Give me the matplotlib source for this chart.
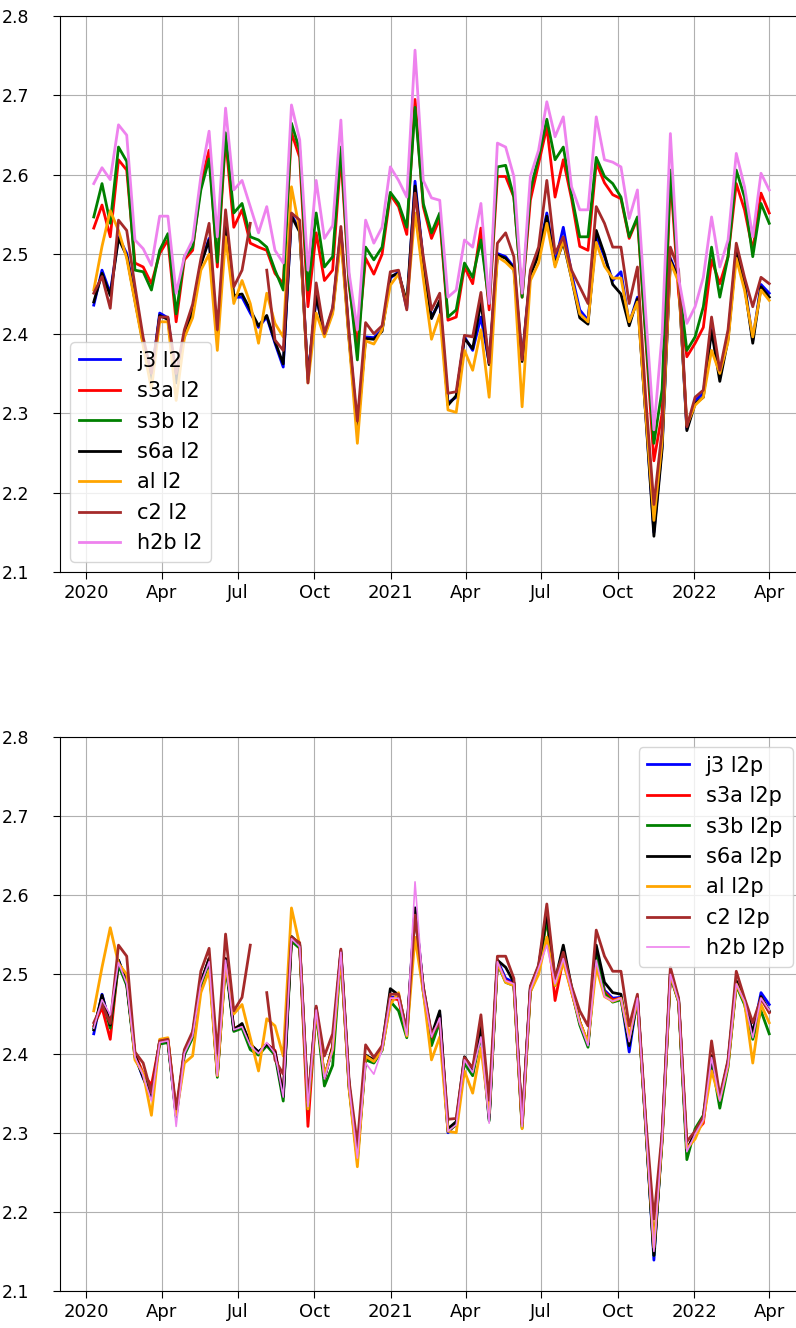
import datetime as dt
import numpy as np
import matplotlib
matplotlib.use('Agg')
import matplotlib.pyplot as plt
import matplotlib.dates as mdates

nan = np.nan

# 83 samples, about every 10 days
start = dt.datetime(2020, 1, 10)
end = dt.datetime(2022, 4, 1)
n_pts = 83
dates = [start + (end - start) * i / (n_pts - 1) for i in range(n_pts)]

# ---- top panel (l2) ----
j3_l2 = [2.436, 2.480, 2.451, 2.522, 2.501, 2.445, 2.390, 2.345, 2.426, 2.420,
         2.340, 2.400, 2.430, 2.489, 2.520, 2.395, 2.540, 2.446, 2.446, 2.426,
         2.408, 2.421, 2.388, 2.358, 2.550, 2.530, 2.345, 2.446, 2.400, 2.430,
         2.530, 2.395, 2.280, 2.396, 2.395, 2.405, 2.470, 2.478, 2.432, 2.592,
         2.492, 2.421, 2.440, 2.313, 2.320, 2.396, 2.379, 2.421, 2.363, 2.501,
         2.497, 2.484, 2.367, 2.476, 2.501, 2.552, 2.489, 2.534, 2.476, 2.430,
         2.417, 2.522, 2.497, 2.467, 2.478, 2.413, 2.446, 2.300, 2.150, 2.260,
         2.495, 2.470, 2.280, 2.316, 2.325, 2.408, 2.345, 2.396, 2.505, 2.463,
         2.392, 2.462, 2.451]
s3a_l2 = [2.533, 2.562, 2.522, 2.619, 2.606, 2.489, 2.484, 2.463, 2.501, 2.518,
          2.415, 2.493, 2.505, 2.589, 2.631, 2.484, 2.646, 2.534, 2.556, 2.514,
          2.509, 2.505, 2.476, 2.463, 2.653, 2.622, 2.434, 2.527, 2.467, 2.480,
          2.625, 2.460, 2.385, 2.495, 2.475, 2.500, 2.575, 2.560, 2.525, 2.695,
          2.560, 2.520, 2.545, 2.417, 2.421, 2.484, 2.463, 2.533, 2.430, 2.598,
          2.598, 2.572, 2.446, 2.568, 2.614, 2.660, 2.572, 2.619, 2.570, 2.510,
          2.505, 2.615, 2.590, 2.575, 2.570, 2.520, 2.545, 2.395, 2.240, 2.300,
          2.600, 2.450, 2.371, 2.388, 2.408, 2.493, 2.463, 2.497, 2.589, 2.556,
          2.505, 2.577, 2.552]
s3b_l2 = [2.547, 2.589, 2.539, 2.635, 2.617, 2.480, 2.478, 2.455, 2.505, 2.526,
          2.425, 2.497, 2.509, 2.581, 2.620, 2.490, 2.653, 2.552, 2.564, 2.522,
          2.518, 2.509, 2.480, 2.455, 2.665, 2.631, 2.455, 2.552, 2.484, 2.497,
          2.635, 2.467, 2.367, 2.509, 2.493, 2.509, 2.578, 2.564, 2.534, 2.685,
          2.564, 2.527, 2.552, 2.421, 2.430, 2.489, 2.471, 2.518, 2.438, 2.610,
          2.612, 2.572, 2.446, 2.581, 2.622, 2.670, 2.619, 2.635, 2.575, 2.522,
          2.522, 2.622, 2.598, 2.589, 2.572, 2.522, 2.547, 2.400, 2.262, 2.330,
          2.606, 2.467, 2.379, 2.396, 2.434, 2.509, 2.446, 2.497, 2.606, 2.572,
          2.497, 2.564, 2.539]
s6a_l2 = [2.440, 2.476, 2.448, 2.520, 2.498, 2.442, 2.388, 2.343, 2.423, 2.418,
          2.338, 2.398, 2.428, 2.487, 2.518, 2.393, 2.538, 2.448, 2.450, 2.430,
          2.410, 2.423, 2.390, 2.362, 2.548, 2.528, 2.343, 2.448, 2.398, 2.428,
          2.528, 2.393, 2.278, 2.394, 2.393, 2.403, 2.472, 2.476, 2.440, 2.586,
          2.490, 2.419, 2.442, 2.310, 2.322, 2.394, 2.381, 2.440, 2.361, 2.499,
          2.495, 2.482, 2.365, 2.474, 2.499, 2.548, 2.487, 2.515, 2.470, 2.420,
          2.412, 2.530, 2.500, 2.462, 2.450, 2.410, 2.444, 2.298, 2.145, 2.255,
          2.493, 2.468, 2.278, 2.312, 2.320, 2.404, 2.340, 2.393, 2.503, 2.461,
          2.388, 2.459, 2.446]
al_l2 = [2.455, 2.510, 2.555, 2.530, 2.495, 2.440, 2.385, 2.330, 2.415, 2.415,
         2.316, 2.395, 2.420, 2.480, 2.500, 2.379, 2.522, 2.438, 2.467, 2.438,
         2.388, 2.451, 2.413, 2.396, 2.585, 2.530, 2.338, 2.426, 2.396, 2.425,
         2.520, 2.390, 2.262, 2.391, 2.387, 2.405, 2.461, 2.475, 2.435, 2.552,
         2.470, 2.393, 2.424, 2.304, 2.301, 2.379, 2.354, 2.405, 2.320, 2.497,
         2.490, 2.480, 2.308, 2.467, 2.489, 2.539, 2.484, 2.518, 2.470, 2.425,
         2.415, 2.515, 2.485, 2.470, 2.470, 2.415, 2.440, 2.300, 2.165, 2.265,
         2.490, 2.465, 2.285, 2.310, 2.320, 2.379, 2.350, 2.390, 2.495, 2.455,
         2.396, 2.455, 2.442]
c2_l2 = [2.451, 2.472, 2.432, 2.543, 2.530, 2.460, 2.395, 2.350, 2.421, 2.421,
         2.350, 2.405, 2.437, 2.494, 2.539, 2.405, 2.556, 2.459, 2.480, 2.539,
         nan, 2.480, 2.392, 2.379, 2.552, 2.543, 2.338, 2.464, 2.400, 2.433,
         2.535, 2.400, 2.290, 2.414, 2.400, 2.410, 2.478, 2.480, 2.430, 2.577,
         2.497, 2.430, 2.451, 2.325, 2.327, 2.398, 2.396, 2.452, 2.363, 2.514,
         2.527, 2.497, 2.367, 2.480, 2.509, 2.593, 2.501, 2.522, 2.480, 2.459,
         2.438, 2.560, 2.539, 2.509, 2.509, 2.438, 2.484, 2.320, 2.185, 2.279,
         2.509, 2.480, 2.283, 2.320, 2.329, 2.421, 2.354, 2.405, 2.514, 2.471,
         2.434, 2.471, 2.463]
h2b_l2 = [2.589, 2.609, 2.594, 2.663, 2.650, 2.518, 2.507, 2.486, 2.548, 2.548,
          2.451, 2.497, 2.518, 2.598, 2.655, 2.522, 2.684, 2.581, 2.593, 2.560,
          2.527, 2.560, 2.505, 2.489, 2.688, 2.644, 2.480, 2.593, 2.520, 2.536,
          2.669, 2.476, 2.405, 2.543, 2.514, 2.534, 2.610, 2.593, 2.572, 2.757,
          2.593, 2.571, 2.568, 2.446, 2.455, 2.518, 2.509, 2.564, 2.438, 2.640,
          2.635, 2.598, 2.451, 2.598, 2.631, 2.692, 2.648, 2.673, 2.585, 2.556,
          2.556, 2.673, 2.619, 2.616, 2.610, 2.545, 2.581, 2.426, 2.279, 2.400,
          2.652, 2.470, 2.413, 2.434, 2.471, 2.547, 2.484, 2.518, 2.627, 2.585,
          2.522, 2.602, 2.581]

# ---- bottom panel (l2p) ----
j3_l2p = [2.425, 2.475, 2.435, 2.518, 2.490, 2.397, 2.369, 2.345, 2.416, 2.416,
          2.322, 2.402, 2.425, 2.490, 2.518, 2.374, 2.518, 2.430, 2.435, 2.410,
          2.402, 2.411, 2.402, 2.345, 2.547, 2.537, 2.335, 2.457, 2.369, 2.407,
          2.528, 2.360, 2.270, 2.397, 2.392, 2.407, 2.471, 2.471, 2.425, 2.584,
          2.482, 2.421, 2.450, 2.300, 2.312, 2.392, 2.378, 2.430, 2.317, 2.518,
          2.495, 2.490, 2.308, 2.482, 2.509, 2.575, 2.490, 2.525, 2.482, 2.439,
          2.411, 2.530, 2.480, 2.470, 2.471, 2.402, 2.471, 2.310, 2.139, 2.295,
          2.500, 2.467, 2.276, 2.298, 2.317, 2.397, 2.341, 2.388, 2.490, 2.467,
          2.425, 2.477, 2.462]
s3a_l2p = [2.435, 2.458, 2.418, 2.515, 2.488, 2.400, 2.375, 2.360, 2.414, 2.418,
           2.325, 2.400, 2.423, 2.488, 2.520, 2.372, 2.520, 2.432, 2.436, 2.412,
           2.400, 2.412, 2.404, 2.348, 2.545, 2.535, 2.308, 2.455, 2.368, 2.410,
           2.526, 2.358, 2.268, 2.395, 2.390, 2.405, 2.470, 2.468, 2.423, 2.580,
           2.480, 2.418, 2.448, 2.302, 2.310, 2.390, 2.375, 2.428, 2.318, 2.515,
           2.492, 2.488, 2.310, 2.480, 2.506, 2.572, 2.467, 2.520, 2.478, 2.440,
           2.412, 2.528, 2.478, 2.468, 2.470, 2.420, 2.470, 2.312, 2.150, 2.292,
           2.498, 2.466, 2.278, 2.300, 2.312, 2.398, 2.340, 2.386, 2.488, 2.465,
           2.423, 2.470, 2.452]
s3b_l2p = [2.432, 2.470, 2.432, 2.512, 2.486, 2.395, 2.372, 2.348, 2.412, 2.414,
           2.320, 2.398, 2.420, 2.485, 2.515, 2.370, 2.515, 2.428, 2.432, 2.405,
           2.398, 2.410, 2.398, 2.340, 2.542, 2.533, 2.330, 2.452, 2.359, 2.385,
           2.524, 2.356, 2.265, 2.392, 2.388, 2.404, 2.466, 2.454, 2.420, 2.578,
           2.478, 2.410, 2.440, 2.302, 2.310, 2.388, 2.372, 2.425, 2.315, 2.514,
           2.490, 2.486, 2.306, 2.478, 2.505, 2.570, 2.486, 2.518, 2.480, 2.436,
           2.408, 2.526, 2.476, 2.465, 2.468, 2.412, 2.466, 2.308, 2.145, 2.290,
           2.498, 2.465, 2.266, 2.305, 2.322, 2.392, 2.331, 2.383, 2.486, 2.462,
           2.418, 2.454, 2.425]
s6a_l2p = [2.430, 2.474, 2.436, 2.518, 2.490, 2.398, 2.370, 2.345, 2.416, 2.416,
           2.322, 2.402, 2.425, 2.490, 2.520, 2.374, 2.520, 2.430, 2.438, 2.412,
           2.402, 2.412, 2.402, 2.346, 2.548, 2.538, 2.334, 2.458, 2.370, 2.408,
           2.530, 2.360, 2.270, 2.398, 2.392, 2.408, 2.482, 2.474, 2.428, 2.584,
           2.484, 2.423, 2.454, 2.305, 2.314, 2.396, 2.380, 2.436, 2.320, 2.518,
           2.509, 2.490, 2.310, 2.484, 2.510, 2.578, 2.492, 2.537, 2.484, 2.440,
           2.412, 2.537, 2.490, 2.477, 2.475, 2.410, 2.472, 2.310, 2.145, 2.296,
           2.502, 2.468, 2.278, 2.300, 2.318, 2.397, 2.342, 2.390, 2.492, 2.468,
           2.426, 2.472, 2.454]
al_l2p = [2.454, 2.509, 2.559, 2.514, 2.500, 2.392, 2.375, 2.322, 2.418, 2.420,
          2.322, 2.388, 2.397, 2.477, 2.505, 2.372, 2.512, 2.450, 2.462, 2.420,
          2.378, 2.444, 2.435, 2.397, 2.584, 2.537, 2.330, 2.455, 2.372, 2.405,
          2.524, 2.355, 2.257, 2.397, 2.390, 2.405, 2.462, 2.477, 2.422, 2.547,
          2.478, 2.392, 2.421, 2.302, 2.300, 2.378, 2.350, 2.407, 2.325, 2.515,
          2.490, 2.486, 2.305, 2.478, 2.500, 2.547, 2.486, 2.515, 2.478, 2.440,
          2.414, 2.509, 2.472, 2.466, 2.470, 2.420, 2.468, 2.312, 2.155, 2.293,
          2.500, 2.466, 2.280, 2.292, 2.316, 2.378, 2.342, 2.385, 2.488, 2.465,
          2.388, 2.462, 2.439]
c2_l2p = [2.439, 2.462, 2.438, 2.537, 2.523, 2.402, 2.388, 2.350, 2.416, 2.418,
          2.330, 2.405, 2.428, 2.504, 2.533, 2.400, 2.551, 2.454, 2.471, 2.537,
          nan, 2.477, 2.392, 2.374, 2.547, 2.540, 2.340, 2.460, 2.397, 2.425,
          2.532, 2.365, 2.285, 2.411, 2.395, 2.410, 2.475, 2.475, 2.428, 2.575,
          2.485, 2.425, 2.439, 2.317, 2.318, 2.395, 2.382, 2.449, 2.341, 2.523,
          2.523, 2.495, 2.312, 2.485, 2.512, 2.589, 2.495, 2.528, 2.485, 2.454,
          2.435, 2.556, 2.523, 2.504, 2.504, 2.435, 2.475, 2.318, 2.191, 2.300,
          2.509, 2.470, 2.289, 2.302, 2.320, 2.416, 2.346, 2.392, 2.504, 2.470,
          2.439, 2.470, 2.452]
h2b_l2p = [2.432, 2.468, 2.449, 2.515, 2.488, 2.396, 2.372, 2.340, 2.414, 2.416,
           2.308, 2.400, 2.422, 2.488, 2.516, 2.372, 2.518, 2.430, 2.434, 2.410,
           2.400, 2.414, 2.400, 2.345, 2.545, 2.535, 2.333, 2.455, 2.368, 2.405,
           2.528, 2.358, 2.268, 2.388, 2.374, 2.405, 2.470, 2.470, 2.423, 2.617,
           2.480, 2.421, 2.445, 2.302, 2.310, 2.392, 2.376, 2.421, 2.312, 2.516,
           2.492, 2.488, 2.308, 2.480, 2.508, 2.537, 2.488, 2.520, 2.480, 2.438,
           2.410, 2.518, 2.472, 2.466, 2.470, 2.415, 2.470, 2.310, 2.150, 2.292,
           2.500, 2.466, 2.276, 2.298, 2.316, 2.395, 2.340, 2.386, 2.488, 2.466,
           2.420, 2.470, 2.455]

names = ['j3', 's3a', 's3b', 's6a', 'al', 'c2', 'h2b']
colors = ['blue', 'red', 'green', 'black', 'orange', 'brown', 'violet']
top_series = [j3_l2, s3a_l2, s3b_l2, s6a_l2, al_l2, c2_l2, h2b_l2]
bottom_series = [j3_l2p, s3a_l2p, s3b_l2p, s6a_l2p, al_l2p, c2_l2p, h2b_l2p]


def draw_panel(ax, series, suffix, legend_loc, pink_lw):
    for name, color, vals in zip(names, colors, series):
        lw = pink_lw if name == 'h2b' else 2.0
        ax.plot(dates, vals, color=color, lw=lw, label=name + ' ' + suffix)
    ax.set_ylim(2.1, 2.8)
    loc = mdates.MonthLocator(bymonth=[1, 4, 7, 10])
    ax.xaxis.set_major_locator(loc)
    ax.xaxis.set_major_formatter(mdates.ConciseDateFormatter(loc))
    ax.tick_params(axis='x', labelsize=13, length=5)
    ax.tick_params(axis='y', labelsize=12.5, length=5, pad=17)
    ax.grid(True)
    ax.legend(loc=legend_loc, fontsize=15)


fig = plt.figure(figsize=(7.96, 13.28), dpi=100)
ax1 = fig.add_axes([60 / 796, 756 / 1328, 743 / 796, 556 / 1328])
ax2 = fig.add_axes([60 / 796, 37 / 1328, 743 / 796, 554 / 1328])

draw_panel(ax1, top_series, 'l2', 'lower left', 2.0)
draw_panel(ax2, bottom_series, 'l2p', 'upper right', 1.2)

fig.savefig('out.png', dpi=100)
